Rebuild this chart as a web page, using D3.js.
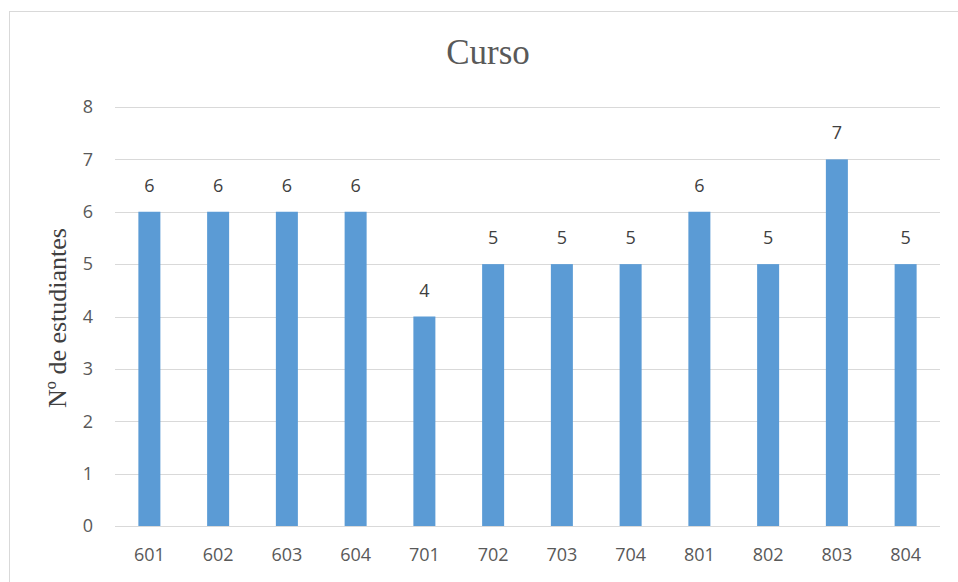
<!DOCTYPE html>
<html><head><meta charset="utf-8">
<script src="https://cdn.jsdelivr.net/npm/d3@7"></script>
<style>body{margin:0;background:#fff}svg{display:block}</style>
</head><body>
<script>
const categories = ["601","602","603","604","701","702","703","704","801","802","803","804"];
const values = [6,6,6,6,4,5,5,5,6,5,7,5];
const yTicks = [0,1,2,3,4,5,6,7,8];
const title = "Curso";
const yLabel = "Nº de estudiantes";

const W = 958, H = 582;
const FONT = "Open Sans, Liberation Sans, sans-serif";
const svg = d3.select("body").append("svg").attr("width", W).attr("height", H);
svg.append("rect").attr("x",9.5).attr("y",11.5).attr("width",W).attr("height",H).attr("fill","#fff").attr("stroke","#d9d9d9");

const x = d3.scaleBand().domain(categories).range([115,940]).paddingInner(0.68).paddingOuter(0.34);
const y = d3.scaleLinear().domain([0,8]).range([526,107]);

const grid = svg.append("g");
grid.selectAll("line").data(yTicks).join("line")
  .attr("x1",115).attr("x2",940).attr("y1",d=>Math.round(y(d))+0.5).attr("y2",d=>Math.round(y(d))+0.5)
  .attr("stroke","#d9d9d9").attr("stroke-width",1);

const yAxis = svg.append("g").attr("transform","translate(115,0)")
  .call(d3.axisLeft(y).tickValues(yTicks).tickSize(0).tickPadding(22).tickFormat(d3.format("d")));
yAxis.select(".domain").remove();
yAxis.selectAll("text").attr("font-family",FONT).attr("font-size",18).attr("fill","#595959");

const xAxis = svg.append("g").attr("transform","translate(0,526)")
  .call(d3.axisBottom(x).tickSize(0).tickPadding(22));
xAxis.select(".domain").remove();
xAxis.selectAll("text").attr("font-family",FONT).attr("font-size",18).attr("fill","#595959");

svg.append("g").selectAll("rect").data(categories).join("rect")
  .attr("x",d=>x(d)).attr("width",x.bandwidth())
  .attr("y",(d,i)=>y(values[i])).attr("height",(d,i)=>y(0)-y(values[i]))
  .attr("fill","#5b9bd5");

svg.append("g").selectAll("text").data(categories).join("text")
  .attr("x",d=>x(d)+x.bandwidth()/2).attr("y",(d,i)=>y(values[i])-20)
  .attr("text-anchor","middle")
  .attr("font-family",FONT).attr("font-size",18).attr("fill","#404040")
  .text((d,i)=>values[i]);

svg.append("text").attr("x",488).attr("y",64).attr("text-anchor","middle")
  .attr("font-family","Liberation Serif, serif").attr("font-size",35).attr("fill","#595959").text(title);

svg.append("text").attr("transform","translate(66,318) rotate(-90)").attr("text-anchor","middle")
  .attr("font-family","Liberation Serif, serif").attr("font-size",26).attr("fill","#404040").text(yLabel);
</script>
</body></html>
